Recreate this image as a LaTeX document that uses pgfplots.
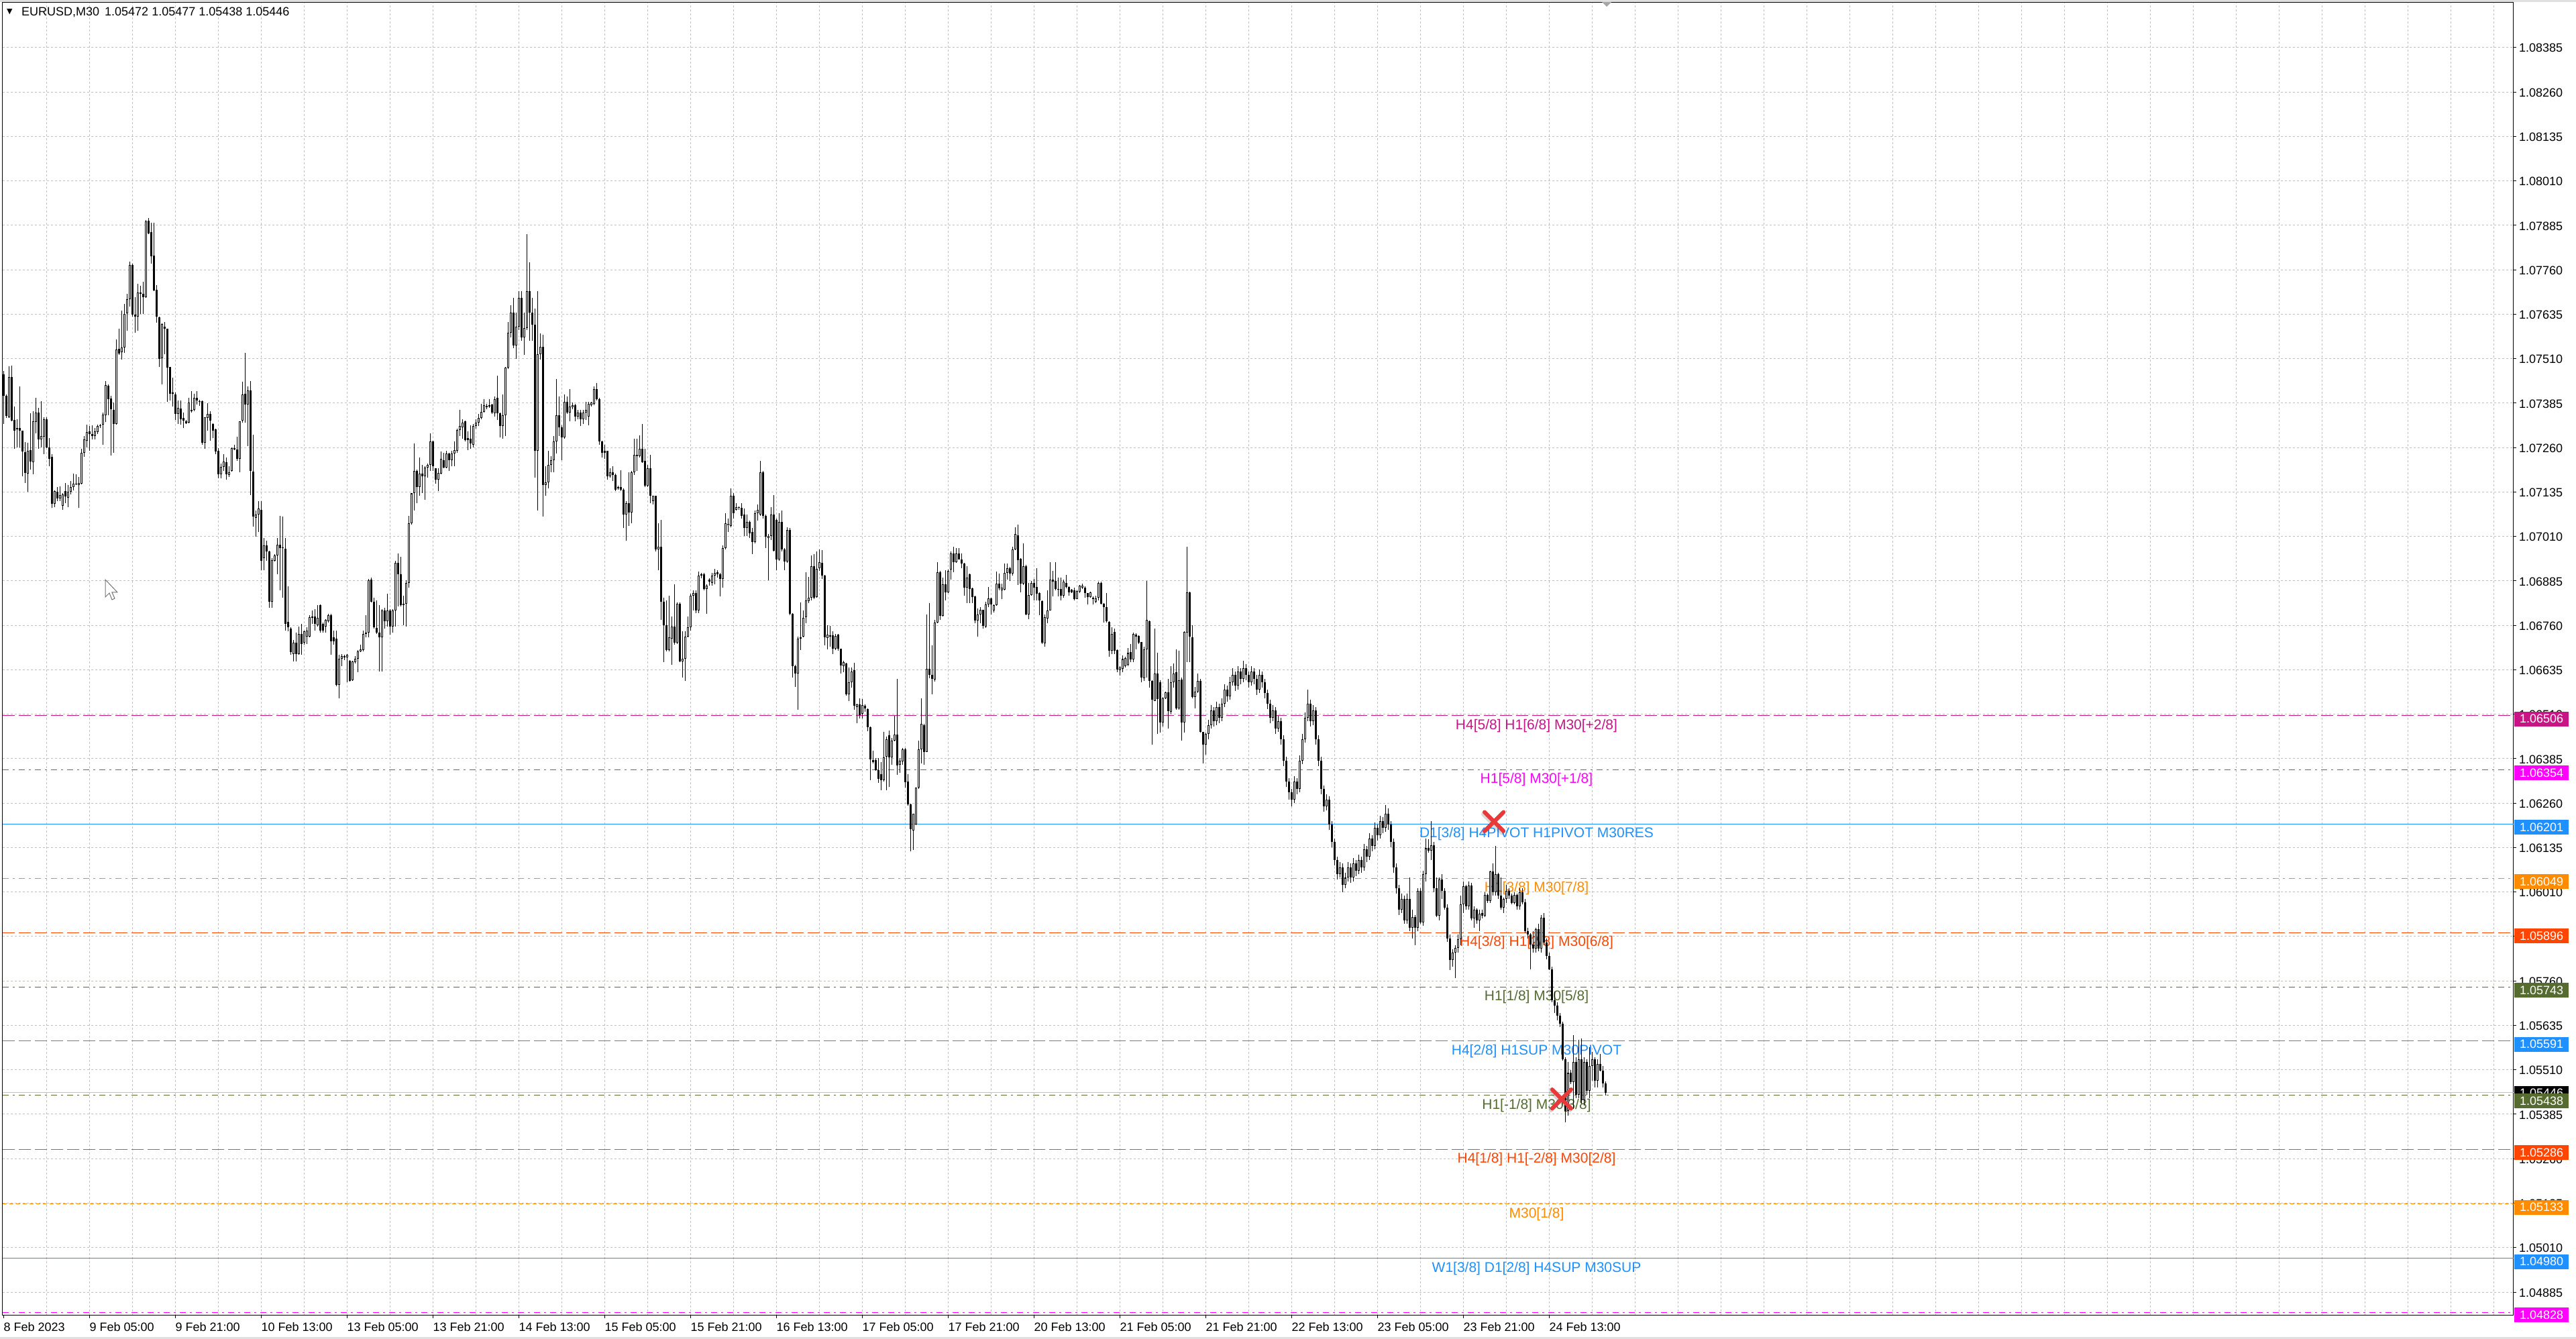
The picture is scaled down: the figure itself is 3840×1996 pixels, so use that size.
\documentclass[border=0pt]{standalone}
\usepackage{fontspec}
\setmainfont{Liberation Sans}
\newfontfamily\djv{DejaVu Sans}
\usepackage{pgfplots}
\pgfplotsset{compat=1.18}
\usepackage{pgfplotstable}

\definecolor{gridc}{RGB}{192,192,192}
\definecolor{mvr}{RGB}{199,21,133}
\definecolor{mag}{RGB}{255,0,255}
\definecolor{dblue}{RGB}{30,144,255}
\definecolor{dorange}{RGB}{255,140,0}
\definecolor{ored}{RGB}{255,69,0}
\definecolor{olivec}{RGB}{85,107,47}
\definecolor{xred}{RGB}{232,58,58}
\definecolor{bidc}{RGB}{192,192,192}

\newcommand{\tickfont}{\fontsize{18}{20}\selectfont}
\newcommand{\lvlfont}{\fontsize{21}{24}\selectfont}

% EURUSD M30 bars: index, open, high, low, close
\pgfplotstableread{
i o h l c
0 1.07466 1.07475 1.07327 1.07406
1 1.07406 1.07409 1.07344 1.07349
2 1.07346 1.07488 1.07344 1.07459
3 1.07458 1.07491 1.07334 1.07335
4 1.07337 1.07376 1.07256 1.07308
5 1.07312 1.07340 1.07261 1.07315
6 1.07315 1.07432 1.07261 1.07307
7 1.07307 1.07308 1.07180 1.07249
8 1.07247 1.07275 1.07161 1.07189
9 1.07187 1.07274 1.07135 1.07250
10 1.07253 1.07357 1.07198 1.07220
11 1.07218 1.07362 1.07185 1.07333
12 1.07332 1.07400 1.07299 1.07359
13 1.07359 1.07371 1.07256 1.07282
14 1.07283 1.07390 1.07261 1.07293
15 1.07290 1.07346 1.07242 1.07340
16 1.07340 1.07346 1.07258 1.07261
17 1.07261 1.07286 1.07208 1.07228
18 1.07233 1.07242 1.07091 1.07101
19 1.07101 1.07139 1.07093 1.07137
20 1.07135 1.07148 1.07110 1.07116
21 1.07117 1.07150 1.07110 1.07127
22 1.07096 1.07131 1.07084 1.07128
23 1.07137 1.07161 1.07104 1.07122
24 1.07118 1.07154 1.07093 1.07135
25 1.07135 1.07166 1.07129 1.07148
26 1.07148 1.07186 1.07140 1.07158
27 1.07156 1.07184 1.07154 1.07158
28 1.07154 1.07177 1.07091 1.07161
29 1.07158 1.07257 1.07156 1.07245
30 1.07245 1.07292 1.07234 1.07282
31 1.07279 1.07325 1.07261 1.07304
32 1.07306 1.07320 1.07251 1.07297
33 1.07298 1.07323 1.07282 1.07293
34 1.07293 1.07315 1.07282 1.07306
35 1.07304 1.07324 1.07298 1.07320
36 1.07320 1.07326 1.07314 1.07323
37 1.07324 1.07358 1.07268 1.07353
38 1.07351 1.07447 1.07332 1.07435
39 1.07433 1.07437 1.07351 1.07396
40 1.07397 1.07406 1.07238 1.07367
41 1.07365 1.07387 1.07245 1.07327
42 1.07327 1.07564 1.07324 1.07535
43 1.07537 1.07594 1.07520 1.07525
44 1.07528 1.07645 1.07507 1.07542
45 1.07542 1.07663 1.07526 1.07635
46 1.07638 1.07692 1.07589 1.07677
47 1.07678 1.07783 1.07657 1.07774
48 1.07774 1.07777 1.07629 1.07633
49 1.07633 1.07682 1.07583 1.07629
50 1.07629 1.07720 1.07588 1.07696
51 1.07696 1.07715 1.07635 1.07692
52 1.07693 1.07726 1.07635 1.07682
53 1.07682 1.07899 1.07680 1.07896
54 1.07898 1.07906 1.07860 1.07862
55 1.07865 1.07893 1.07778 1.07797
56 1.07800 1.07893 1.07700 1.07701
57 1.07703 1.07717 1.07611 1.07629
58 1.07627 1.07629 1.07486 1.07509
59 1.07512 1.07610 1.07438 1.07608
60 1.07600 1.07613 1.07522 1.07595
61 1.07594 1.07594 1.07388 1.07484
62 1.07486 1.07487 1.07393 1.07412
63 1.07415 1.07456 1.07376 1.07411
64 1.07409 1.07415 1.07338 1.07355
65 1.07355 1.07393 1.07327 1.07371
66 1.07369 1.07393 1.07324 1.07340
67 1.07344 1.07359 1.07315 1.07335
68 1.07334 1.07337 1.07327 1.07329
69 1.07330 1.07400 1.07328 1.07387
70 1.07362 1.07418 1.07359 1.07365
71 1.07365 1.07412 1.07362 1.07400
72 1.07400 1.07418 1.07381 1.07393
73 1.07390 1.07394 1.07378 1.07388
74 1.07391 1.07393 1.07268 1.07273
75 1.07274 1.07346 1.07256 1.07345
76 1.07343 1.07384 1.07308 1.07355
77 1.07354 1.07362 1.07280 1.07335
78 1.07327 1.07328 1.07287 1.07308
79 1.07312 1.07313 1.07242 1.07249
80 1.07250 1.07258 1.07173 1.07185
81 1.07185 1.07214 1.07173 1.07206
82 1.07205 1.07242 1.07195 1.07220
83 1.07218 1.07231 1.07170 1.07185
84 1.07183 1.07208 1.07178 1.07190
85 1.07195 1.07261 1.07192 1.07258
86 1.07258 1.07267 1.07252 1.07254
87 1.07255 1.07291 1.07223 1.07228
88 1.07228 1.07333 1.07190 1.07333
89 1.07335 1.07445 1.07330 1.07409
90 1.07411 1.07527 1.07330 1.07381
91 1.07381 1.07432 1.07264 1.07421
92 1.07420 1.07447 1.07126 1.07195
93 1.07193 1.07296 1.07038 1.07065
94 1.07063 1.07082 1.07010 1.07071
95 1.07072 1.07110 1.07022 1.07088
96 1.07084 1.07110 1.06915 1.06942
97 1.06949 1.07005 1.06915 1.06984
98 1.06984 1.06998 1.06942 1.06967
99 1.06967 1.06970 1.06809 1.06827
100 1.06827 1.06949 1.06809 1.06944
101 1.06942 1.06960 1.06939 1.06956
102 1.06956 1.07005 1.06904 1.06986
103 1.06986 1.07068 1.06858 1.06977
104 1.06977 1.07065 1.06837 1.06976
105 1.06976 1.07005 1.06746 1.06764
106 1.06769 1.06869 1.06743 1.06754
107 1.06751 1.06754 1.06677 1.06684
108 1.06680 1.06719 1.06659 1.06712
109 1.06712 1.06740 1.06659 1.06680
110 1.06680 1.06757 1.06677 1.06736
111 1.06736 1.06764 1.06677 1.06708
112 1.06712 1.06746 1.06705 1.06743
113 1.06729 1.06754 1.06708 1.06746
114 1.06729 1.06788 1.06726 1.06783
115 1.06781 1.06802 1.06764 1.06785
116 1.06785 1.06806 1.06746 1.06764
117 1.06760 1.06817 1.06757 1.06781
118 1.06817 1.06818 1.06740 1.06746
119 1.06764 1.06767 1.06740 1.06746
120 1.06757 1.06778 1.06740 1.06775
121 1.06771 1.06792 1.06767 1.06788
122 1.06788 1.06792 1.06677 1.06715
123 1.06726 1.06746 1.06705 1.06715
124 1.06722 1.06746 1.06589 1.06593
125 1.06593 1.06677 1.06554 1.06666
126 1.06666 1.06680 1.06645 1.06674
127 1.06674 1.06677 1.06663 1.06670
128 1.06670 1.06680 1.06600 1.06677
129 1.06661 1.06663 1.06601 1.06603
130 1.06606 1.06661 1.06603 1.06659
131 1.06656 1.06674 1.06652 1.06666
132 1.06666 1.06691 1.06628 1.06687
133 1.06687 1.06705 1.06684 1.06692
134 1.06691 1.06746 1.06687 1.06736
135 1.06736 1.06788 1.06726 1.06740
136 1.06740 1.06890 1.06726 1.06886
137 1.06888 1.06895 1.06824 1.06827
138 1.06827 1.06837 1.06751 1.06754
139 1.06752 1.06830 1.06736 1.06740
140 1.06740 1.06817 1.06631 1.06726
141 1.06726 1.06806 1.06631 1.06802
142 1.06802 1.06809 1.06751 1.06771
143 1.06771 1.06848 1.06757 1.06802
144 1.06802 1.06806 1.06733 1.06757
145 1.06757 1.06806 1.06740 1.06802
146 1.06802 1.06942 1.06757 1.06935
147 1.06935 1.06963 1.06813 1.06904
148 1.06904 1.06953 1.06813 1.06817
149 1.06817 1.06844 1.06760 1.06820
150 1.06820 1.06886 1.06757 1.06879
151 1.06879 1.07068 1.06865 1.07047
152 1.07047 1.07132 1.07043 1.07131
153 1.07131 1.07272 1.07082 1.07194
154 1.07194 1.07197 1.07103 1.07148
155 1.07148 1.07232 1.07124 1.07187
156 1.07187 1.07211 1.07131 1.07180
157 1.07180 1.07208 1.07113 1.07204
158 1.07204 1.07215 1.07176 1.07211
159 1.07211 1.07299 1.07194 1.07278
160 1.07278 1.07279 1.07194 1.07208
161 1.07201 1.07202 1.07159 1.07169
162 1.07169 1.07201 1.07138 1.07188
163 1.07187 1.07248 1.07185 1.07229
164 1.07224 1.07246 1.07202 1.07204
165 1.07204 1.07250 1.07201 1.07243
166 1.07243 1.07246 1.07194 1.07225
167 1.07225 1.07250 1.07208 1.07243
168 1.07243 1.07278 1.07208 1.07253
169 1.07250 1.07313 1.07246 1.07309
170 1.07309 1.07365 1.07292 1.07320
171 1.07316 1.07340 1.07285 1.07330
172 1.07333 1.07335 1.07278 1.07281
173 1.07281 1.07306 1.07253 1.07286
174 1.07285 1.07323 1.07257 1.07271
175 1.07267 1.07326 1.07260 1.07320
176 1.07320 1.07340 1.07313 1.07330
177 1.07330 1.07354 1.07320 1.07344
178 1.07344 1.07382 1.07340 1.07361
179 1.07361 1.07396 1.07358 1.07379
180 1.07374 1.07382 1.07368 1.07377
181 1.07375 1.07396 1.07372 1.07379
182 1.07381 1.07382 1.07354 1.07358
183 1.07356 1.07403 1.07347 1.07396
184 1.07400 1.07463 1.07337 1.07356
185 1.07356 1.07358 1.07288 1.07320
186 1.07320 1.07410 1.07285 1.07351
187 1.07351 1.07487 1.07292 1.07484
188 1.07484 1.07613 1.07480 1.07582
189 1.07582 1.07660 1.07570 1.07640
190 1.07640 1.07680 1.07540 1.07547
191 1.07547 1.07640 1.07510 1.07600
192 1.07600 1.07700 1.07590 1.07680
193 1.07680 1.07700 1.07560 1.07570
194 1.07570 1.07640 1.07520 1.07596
195 1.07596 1.07860 1.07590 1.07700
196 1.07700 1.07780 1.07560 1.07640
197 1.07640 1.07680 1.07560 1.07606
198 1.07606 1.07650 1.07176 1.07250
199 1.07250 1.07700 1.07082 1.07522
200 1.07522 1.07580 1.07508 1.07543
201 1.07543 1.07578 1.07065 1.07155
202 1.07155 1.07208 1.07124 1.07162
203 1.07162 1.07250 1.07145 1.07211
204 1.07211 1.07236 1.07190 1.07225
205 1.07225 1.07292 1.07190 1.07278
206 1.07278 1.07452 1.07243 1.07351
207 1.07351 1.07403 1.07292 1.07316
208 1.07316 1.07323 1.07225 1.07288
209 1.07288 1.07410 1.07285 1.07389
210 1.07389 1.07403 1.07354 1.07358
211 1.07358 1.07424 1.07333 1.07375
212 1.07374 1.07386 1.07368 1.07379
213 1.07379 1.07382 1.07333 1.07347
214 1.07347 1.07365 1.07340 1.07358
215 1.07358 1.07365 1.07320 1.07340
216 1.07340 1.07365 1.07326 1.07358
217 1.07358 1.07389 1.07337 1.07365
218 1.07347 1.07389 1.07323 1.07382
219 1.07379 1.07389 1.07375 1.07386
220 1.07382 1.07431 1.07379 1.07424
221 1.07424 1.07442 1.07393 1.07396
222 1.07396 1.07400 1.07267 1.07278
223 1.07278 1.07279 1.07232 1.07246
224 1.07246 1.07267 1.07229 1.07250
225 1.07250 1.07251 1.07169 1.07180
226 1.07180 1.07201 1.07176 1.07190
227 1.07190 1.07208 1.07166 1.07183
228 1.07183 1.07187 1.07138 1.07141
229 1.07148 1.07152 1.07141 1.07145
230 1.07148 1.07197 1.07138 1.07141
231 1.07141 1.07146 1.07033 1.07071
232 1.07071 1.07110 1.06998 1.07104
233 1.07104 1.07190 1.07040 1.07078
234 1.07078 1.07194 1.07047 1.07190
235 1.07190 1.07285 1.07183 1.07239
236 1.07236 1.07285 1.07194 1.07239
237 1.07236 1.07295 1.07232 1.07257
238 1.07257 1.07326 1.07216 1.07218
239 1.07222 1.07257 1.07148 1.07152
240 1.07152 1.07211 1.07148 1.07201
241 1.07201 1.07239 1.07103 1.07124
242 1.07110 1.07124 1.07099 1.07124
243 1.07124 1.07125 1.06967 1.06974
244 1.06974 1.07047 1.06915 1.06981
245 1.06981 1.07057 1.06775 1.06827
246 1.06827 1.06837 1.06656 1.06760
247 1.06760 1.06830 1.06687 1.06691
248 1.06691 1.06844 1.06687 1.06726
249 1.06722 1.06785 1.06649 1.06757
250 1.06757 1.06876 1.06705 1.06712
251 1.06712 1.06824 1.06708 1.06820
252 1.06820 1.06824 1.06656 1.06659
253 1.06659 1.06743 1.06614 1.06666
254 1.06666 1.06743 1.06603 1.06729
255 1.06729 1.06785 1.06726 1.06754
256 1.06754 1.06848 1.06746 1.06844
257 1.06844 1.06858 1.06802 1.06851
258 1.06851 1.06858 1.06795 1.06802
259 1.06802 1.06911 1.06795 1.06900
260 1.06900 1.06907 1.06893 1.06904
261 1.06904 1.06907 1.06858 1.06862
262 1.06862 1.06876 1.06792 1.06872
263 1.06888 1.06893 1.06872 1.06883
264 1.06879 1.06907 1.06872 1.06900
265 1.06900 1.06918 1.06876 1.06907
266 1.06904 1.06915 1.06895 1.06909
267 1.06904 1.06907 1.06841 1.06890
268 1.06890 1.06985 1.06865 1.06977
269 1.06977 1.07075 1.06974 1.07047
270 1.07041 1.07061 1.07022 1.07046
271 1.07040 1.07145 1.07036 1.07124
272 1.07124 1.07131 1.07061 1.07075
273 1.07085 1.07103 1.07082 1.07092
274 1.07090 1.07095 1.07085 1.07092
275 1.07090 1.07103 1.07061 1.07068
276 1.07071 1.07089 1.07012 1.07033
277 1.07033 1.07071 1.07012 1.07050
278 1.07050 1.07054 1.07005 1.07019
279 1.07022 1.07033 1.06960 1.06995
280 1.06995 1.07082 1.06991 1.07075
281 1.07075 1.07099 1.07054 1.07085
282 1.07071 1.07222 1.07068 1.07190
283 1.07190 1.07194 1.07061 1.07068
284 1.07068 1.07071 1.06977 1.07009
285 1.07005 1.07016 1.06886 1.07012
286 1.07012 1.07092 1.07000 1.07071
287 1.07071 1.07127 1.06967 1.06970
288 1.07057 1.07061 1.06915 1.06946
289 1.06946 1.07075 1.06942 1.07050
290 1.07050 1.07082 1.06967 1.06974
291 1.06974 1.06977 1.06915 1.06939
292 1.06939 1.07036 1.06935 1.07029
293 1.07029 1.07033 1.06788 1.06792
294 1.06792 1.06795 1.06614 1.06645
295 1.06645 1.06649 1.06586 1.06625
296 1.06625 1.06729 1.06522 1.06722
297 1.06722 1.06824 1.06691 1.06726
298 1.06729 1.06802 1.06726 1.06781
299 1.06783 1.06909 1.06765 1.06830
300 1.06828 1.06896 1.06823 1.06837
301 1.06837 1.06956 1.06830 1.06927
302 1.06927 1.06960 1.06833 1.06838
303 1.06839 1.06967 1.06837 1.06918
304 1.06920 1.06973 1.06913 1.06938
305 1.06936 1.06971 1.06891 1.06900
306 1.06900 1.06902 1.06703 1.06727
307 1.06725 1.06761 1.06693 1.06734
308 1.06729 1.06758 1.06700 1.06732
309 1.06732 1.06743 1.06680 1.06694
310 1.06694 1.06736 1.06690 1.06730
311 1.06734 1.06736 1.06689 1.06694
312 1.06694 1.06694 1.06624 1.06648
313 1.06646 1.06660 1.06628 1.06656
314 1.06653 1.06655 1.06562 1.06566
315 1.06566 1.06642 1.06548 1.06600
316 1.06600 1.06642 1.06584 1.06631
317 1.06633 1.06655 1.06523 1.06534
318 1.06530 1.06540 1.06485 1.06537
319 1.06537 1.06555 1.06498 1.06508
320 1.06511 1.06552 1.06498 1.06535
321 1.06534 1.06537 1.06516 1.06526
322 1.06524 1.06526 1.06463 1.06474
323 1.06474 1.06476 1.06324 1.06383
324 1.06382 1.06407 1.06372 1.06376
325 1.06381 1.06386 1.06350 1.06353
326 1.06353 1.06386 1.06317 1.06328
327 1.06342 1.06376 1.06296 1.06324
328 1.06324 1.06461 1.06320 1.06389
329 1.06391 1.06447 1.06296 1.06440
330 1.06451 1.06465 1.06306 1.06389
331 1.06389 1.06444 1.06368 1.06436
332 1.06436 1.06505 1.06434 1.06453
333 1.06453 1.06610 1.06339 1.06366
334 1.06368 1.06386 1.06346 1.06380
335 1.06378 1.06415 1.06368 1.06411
336 1.06411 1.06415 1.06303 1.06318
337 1.06321 1.06342 1.06252 1.06256
338 1.06256 1.06259 1.06125 1.06187
339 1.06183 1.06230 1.06129 1.06230
340 1.06200 1.06304 1.06198 1.06303
341 1.06303 1.06436 1.06299 1.06411
342 1.06411 1.06555 1.06372 1.06483
343 1.06479 1.06483 1.06368 1.06404
344 1.06404 1.06790 1.06404 1.06638
345 1.06638 1.06823 1.06612 1.06620
346 1.06620 1.06703 1.06566 1.06610
347 1.06607 1.06776 1.06602 1.06768
348 1.06768 1.06938 1.06765 1.06909
349 1.06909 1.06913 1.06776 1.06786
350 1.06786 1.06895 1.06785 1.06875
351 1.06875 1.06915 1.06830 1.06853
352 1.06853 1.06916 1.06851 1.06913
353 1.06916 1.06967 1.06888 1.06963
354 1.06963 1.06981 1.06909 1.06938
355 1.06938 1.06978 1.06935 1.06963
356 1.06963 1.06978 1.06945 1.06945
357 1.06945 1.06963 1.06920 1.06934
358 1.06934 1.06936 1.06844 1.06866
359 1.06866 1.06927 1.06823 1.06895
360 1.06903 1.06906 1.06823 1.06862
361 1.06864 1.06866 1.06823 1.06839
362 1.06842 1.06844 1.06765 1.06773
363 1.06773 1.06808 1.06729 1.06790
364 1.06790 1.06812 1.06765 1.06804
365 1.06804 1.06804 1.06750 1.06758
366 1.06756 1.06826 1.06752 1.06819
367 1.06819 1.06867 1.06812 1.06835
368 1.06835 1.06837 1.06790 1.06819
369 1.06802 1.06819 1.06797 1.06817
370 1.06817 1.06911 1.06815 1.06878
371 1.06878 1.06906 1.06859 1.06864
372 1.06859 1.06877 1.06833 1.06866
373 1.06860 1.06934 1.06859 1.06907
374 1.06907 1.06934 1.06888 1.06920
375 1.06920 1.06924 1.06884 1.06906
376 1.06906 1.06981 1.06900 1.06973
377 1.06973 1.07036 1.06971 1.07016
378 1.07014 1.07043 1.06873 1.06944
379 1.06947 1.06949 1.06853 1.06877
380 1.06877 1.06991 1.06873 1.06927
381 1.06927 1.06930 1.06788 1.06790
382 1.06790 1.06880 1.06778 1.06846
383 1.06846 1.06884 1.06844 1.06880
384 1.06880 1.06891 1.06830 1.06866
385 1.06867 1.06920 1.06830 1.06849
386 1.06851 1.06853 1.06788 1.06830
387 1.06828 1.06830 1.06707 1.06711
388 1.06709 1.06790 1.06700 1.06783
389 1.06780 1.06859 1.06765 1.06802
390 1.06801 1.06938 1.06801 1.06888
391 1.06888 1.06913 1.06841 1.06882
392 1.06884 1.06937 1.06859 1.06862
393 1.06862 1.06895 1.06841 1.06860
394 1.06862 1.06895 1.06830 1.06844
395 1.06844 1.06888 1.06837 1.06882
396 1.06880 1.06902 1.06864 1.06867
397 1.06867 1.06869 1.06844 1.06853
398 1.06860 1.06862 1.06851 1.06853
399 1.06859 1.06866 1.06830 1.06833
400 1.06834 1.06859 1.06833 1.06856
401 1.06855 1.06873 1.06851 1.06872
402 1.06866 1.06877 1.06862 1.06872
403 1.06866 1.06869 1.06837 1.06851
404 1.06850 1.06851 1.06819 1.06839
405 1.06839 1.06855 1.06837 1.06853
406 1.06838 1.06841 1.06819 1.06833
407 1.06826 1.06844 1.06823 1.06835
408 1.06837 1.06883 1.06830 1.06879
409 1.06879 1.06883 1.06819 1.06820
410 1.06820 1.06823 1.06768 1.06812
411 1.06812 1.06851 1.06768 1.06772
412 1.06770 1.06772 1.06671 1.06689
413 1.06689 1.06754 1.06679 1.06736
414 1.06742 1.06750 1.06679 1.06689
415 1.06690 1.06693 1.06629 1.06635
416 1.06633 1.06646 1.06619 1.06642
417 1.06638 1.06675 1.06628 1.06665
418 1.06646 1.06671 1.06642 1.06667
419 1.06649 1.06696 1.06646 1.06682
420 1.06684 1.06707 1.06656 1.06664
421 1.06664 1.06740 1.06656 1.06736
422 1.06734 1.06737 1.06693 1.06729
423 1.06730 1.06732 1.06707 1.06711
424 1.06713 1.06714 1.06599 1.06613
425 1.06612 1.06700 1.06604 1.06693
426 1.06693 1.06884 1.06613 1.06776
427 1.06772 1.06773 1.06584 1.06604
428 1.06604 1.06606 1.06425 1.06550
429 1.06548 1.06750 1.06548 1.06624
430 1.06624 1.06682 1.06454 1.06552
431 1.06599 1.06606 1.06458 1.06487
432 1.06487 1.06559 1.06476 1.06555
433 1.06555 1.06573 1.06552 1.06571
434 1.06571 1.06610 1.06469 1.06519
435 1.06516 1.06646 1.06512 1.06599
436 1.06599 1.06653 1.06584 1.06624
437 1.06628 1.06693 1.06523 1.06526
438 1.06526 1.06689 1.06523 1.06606
439 1.06607 1.06613 1.06436 1.06487
440 1.06487 1.06743 1.06458 1.06742
441 1.06740 1.06981 1.06656 1.06853
442 1.06853 1.06855 1.06656 1.06729
443 1.06727 1.06761 1.06555 1.06559
444 1.06559 1.06586 1.06526 1.06573
445 1.06573 1.06624 1.06570 1.06604
446 1.06604 1.06610 1.06458 1.06461
447 1.06460 1.06461 1.06372 1.06425
448 1.06425 1.06458 1.06396 1.06454
449 1.06454 1.06495 1.06440 1.06480
450 1.06480 1.06535 1.06470 1.06520
451 1.06520 1.06530 1.06475 1.06490
452 1.06490 1.06545 1.06480 1.06530
453 1.06530 1.06540 1.06485 1.06500
454 1.06500 1.06555 1.06490 1.06540
455 1.06540 1.06595 1.06530 1.06580
456 1.06580 1.06590 1.06545 1.06560
457 1.06560 1.06615 1.06550 1.06600
458 1.06600 1.06640 1.06590 1.06620
459 1.06620 1.06630 1.06575 1.06590
460 1.06590 1.06645 1.06580 1.06630
461 1.06630 1.06640 1.06595 1.06610
462 1.06610 1.06660 1.06600 1.06640
463 1.06640 1.06650 1.06605 1.06620
464 1.06620 1.06630 1.06585 1.06600
465 1.06600 1.06645 1.06590 1.06630
466 1.06630 1.06640 1.06595 1.06610
467 1.06610 1.06620 1.06565 1.06580
468 1.06580 1.06635 1.06570 1.06620
469 1.06620 1.06630 1.06585 1.06600
470 1.06600 1.06610 1.06555 1.06570
471 1.06570 1.06580 1.06525 1.06540
472 1.06540 1.06550 1.06485 1.06500
473 1.06500 1.06535 1.06490 1.06520
474 1.06520 1.06530 1.06455 1.06470
475 1.06470 1.06505 1.06460 1.06490
476 1.06490 1.06500 1.06425 1.06440
477 1.06440 1.06450 1.06365 1.06380
478 1.06380 1.06390 1.06305 1.06320
479 1.06320 1.06330 1.06270 1.06290
480 1.06290 1.06300 1.06250 1.06270
481 1.06270 1.06335 1.06260 1.06320
482 1.06320 1.06330 1.06285 1.06300
483 1.06300 1.06395 1.06290 1.06380
484 1.06380 1.06455 1.06370 1.06440
485 1.06440 1.06515 1.06430 1.06500
486 1.06500 1.06580 1.06490 1.06540
487 1.06540 1.06550 1.06475 1.06490
488 1.06490 1.06535 1.06480 1.06520
489 1.06520 1.06530 1.06425 1.06440
490 1.06440 1.06450 1.06365 1.06380
491 1.06380 1.06390 1.06285 1.06300
492 1.06300 1.06310 1.06235 1.06250
493 1.06250 1.06285 1.06240 1.06270
494 1.06270 1.06280 1.06185 1.06200
495 1.06200 1.06210 1.06135 1.06150
496 1.06150 1.06160 1.06085 1.06100
497 1.06100 1.06110 1.06045 1.06060
498 1.06060 1.06095 1.06050 1.06080
499 1.06080 1.06090 1.06010 1.06030
500 1.06030 1.06065 1.06020 1.06050
501 1.06050 1.06095 1.06040 1.06080
502 1.06080 1.06090 1.06035 1.06050
503 1.06050 1.06105 1.06040 1.06090
504 1.06090 1.06100 1.06055 1.06070
505 1.06070 1.06115 1.06060 1.06100
506 1.06100 1.06110 1.06065 1.06080
507 1.06080 1.06145 1.06070 1.06130
508 1.06130 1.06140 1.06095 1.06110
509 1.06110 1.06175 1.06100 1.06160
510 1.06160 1.06170 1.06125 1.06140
511 1.06140 1.06205 1.06130 1.06190
512 1.06190 1.06200 1.06155 1.06170
513 1.06170 1.06225 1.06160 1.06210
514 1.06210 1.06220 1.06175 1.06190
515 1.06190 1.06255 1.06180 1.06230
516 1.06230 1.06245 1.06185 1.06200
517 1.06200 1.06210 1.06135 1.06150
518 1.06150 1.06160 1.06065 1.06080
519 1.06080 1.06090 1.06005 1.06020
520 1.06020 1.06030 1.05945 1.05960
521 1.05960 1.06005 1.05950 1.05990
522 1.05990 1.06000 1.05920 1.05930
523 1.05930 1.06005 1.05920 1.05990
524 1.05990 1.06050 1.05900 1.05910
525 1.05910 1.05960 1.05880 1.05940
526 1.05940 1.05945 1.05860 1.05910
527 1.05910 1.06020 1.05900 1.06013
528 1.06013 1.06020 1.05920 1.05925
529 1.05925 1.06070 1.05915 1.06060
530 1.06060 1.06161 1.06040 1.06133
531 1.06133 1.06158 1.06120 1.06127
532 1.06127 1.06209 1.06100 1.06142
533 1.06142 1.06150 1.06010 1.06020
534 1.06020 1.06050 1.05940 1.05944
535 1.05944 1.06050 1.05930 1.06045
536 1.06045 1.06060 1.05990 1.06013
537 1.06013 1.06020 1.05960 1.05966
538 1.05966 1.05975 1.05870 1.05880
539 1.05880 1.05890 1.05790 1.05818
540 1.05818 1.05850 1.05800 1.05840
541 1.05840 1.05860 1.05768 1.05853
542 1.05853 1.05890 1.05840 1.05878
543 1.05878 1.06000 1.05860 1.05976
544 1.05976 1.06040 1.05950 1.06026
545 1.06026 1.06030 1.05960 1.05970
546 1.05970 1.06040 1.05960 1.06029
547 1.06029 1.06035 1.05930 1.05935
548 1.05935 1.05970 1.05910 1.05960
549 1.05960 1.05965 1.05920 1.05930
550 1.05930 1.05960 1.05900 1.05950
551 1.05950 1.05960 1.05935 1.05944
552 1.05944 1.06010 1.05940 1.06001
553 1.06001 1.06005 1.05980 1.05985
554 1.05985 1.06070 1.05980 1.06067
555 1.06067 1.06090 1.06000 1.06010
556 1.06010 1.06139 1.06000 1.06060
557 1.06060 1.06065 1.05990 1.06000
558 1.06000 1.06050 1.05960 1.05966
559 1.05966 1.05995 1.05950 1.05990
560 1.05990 1.06030 1.05980 1.06013
561 1.06013 1.06020 1.05990 1.06000
562 1.06000 1.06005 1.05975 1.05980
563 1.05980 1.06010 1.05975 1.06001
564 1.06001 1.06005 1.05960 1.05969
565 1.05969 1.06020 1.05960 1.06010
566 1.06010 1.06020 1.05975 1.05982
567 1.05982 1.05990 1.05895 1.05900
568 1.05900 1.05910 1.05880 1.05890
569 1.05890 1.05895 1.05793 1.05862
570 1.05862 1.05900 1.05840 1.05850
571 1.05850 1.05910 1.05840 1.05906
572 1.05906 1.05920 1.05843 1.05850
573 1.05850 1.05945 1.05840 1.05938
574 1.05938 1.05950 1.05860 1.05868
575 1.05868 1.05880 1.05820 1.05831
576 1.05831 1.05840 1.05790 1.05793
577 1.05793 1.05800 1.05700 1.05705
578 1.05705 1.05730 1.05670 1.05690
579 1.05690 1.05700 1.05650 1.05662
580 1.05662 1.05670 1.05630 1.05640
581 1.05640 1.05645 1.05535 1.05539
582 1.05539 1.05545 1.05362 1.05394
583 1.05394 1.05532 1.05381 1.05501
584 1.05501 1.05510 1.05470 1.05476
585 1.05476 1.05608 1.05400 1.05532
586 1.05532 1.05545 1.05430 1.05440
587 1.05440 1.05595 1.05430 1.05539
588 1.05539 1.05599 1.05415 1.05425
589 1.05425 1.05545 1.05410 1.05532
590 1.05532 1.05540 1.05440 1.05451
591 1.05451 1.05573 1.05430 1.05520
592 1.05520 1.05560 1.05480 1.05539
593 1.05539 1.05545 1.05460 1.05480
594 1.05480 1.05540 1.05460 1.05526
595 1.05526 1.05554 1.05505 1.05507
596 1.05507 1.05520 1.05460 1.05472
597 1.05472 1.05477 1.05438 1.05446
}\candles

\begin{document}
\begin{tikzpicture}
\fill[white] (0,0) rectangle (3840pt,1996pt);
\path[use as bounding box] (0,0) rectangle (3840pt,1996pt);
% window frame bands
\fill[black!12] (0,1993pt) rectangle (3840pt,1996pt);
\fill[black!12] (0,0) rectangle (3840pt,3pt);

\begin{axis}[
  at={(4pt,35pt)}, anchor=south west,
  scale only axis, width=3743pt, height=1957pt,
  xmin=-0.375, xmax=935.375, ymin=1.04819, ymax=1.08511,
  clip=false,
  axis line style={black, line width=1pt},
  tick align=outside, major tick length=4pt, minor tick length=0pt,
  tick style={black, line width=1pt},
  xtick pos=bottom, ytick pos=right, yticklabel pos=right,
  xtick={0,32,...,576},
  xticklabels={8 Feb 2023,9 Feb 05:00,9 Feb 21:00,10 Feb 13:00,13 Feb 05:00,13 Feb 21:00,14 Feb 13:00,15 Feb 05:00,15 Feb 21:00,16 Feb 13:00,17 Feb 05:00,17 Feb 21:00,20 Feb 13:00,21 Feb 05:00,21 Feb 21:00,22 Feb 13:00,23 Feb 05:00,23 Feb 21:00,24 Feb 13:00},
  minor xtick={16,32,...,928},
  ytick={1.04885,1.05010,1.05135,1.05260,1.05385,1.05510,1.05635,1.05760,1.05885,1.06010,1.06135,1.06260,1.06385,1.06510,1.06635,1.06760,1.06885,1.07010,1.07135,1.07260,1.07385,1.07510,1.07635,1.07760,1.07885,1.08010,1.08135,1.08260,1.08385},
  yticklabels={1.04885,1.05010,1.05135,1.05260,1.05385,1.05510,1.05635,1.05760,1.05885,1.06010,1.06135,1.06260,1.06385,1.06510,1.06635,1.06760,1.06885,1.07010,1.07135,1.07260,1.07385,1.07510,1.07635,1.07760,1.07885,1.08010,1.08135,1.08260,1.08385},
  xmajorgrids=false, xminorgrids=true, ymajorgrids=true,
  grid style={gridc, dash pattern=on 3pt off 3pt, line width=1pt},
  minor grid style={gridc, dash pattern=on 3pt off 3pt, line width=1pt},
  xticklabel style={font=\tickfont, anchor=north west, inner sep=0pt, yshift=-6pt},
  yticklabel style={font=\tickfont, anchor=west, inner sep=0pt, xshift=4pt, yshift=-1pt},
]

% level lines
\addplot[mvr, line width=1pt, dash pattern=on 18pt off 6pt] coordinates {(-0.375,1.06506) (935.375,1.06506)};
\addplot[mag, line width=1pt, dash pattern=on 9pt off 6pt on 3pt off 6pt] coordinates {(-0.375,1.06354) (935.375,1.06354)};
\addplot[dblue, line width=1pt] coordinates {(-0.375,1.06201) (935.375,1.06201)};
\addplot[dorange, line width=1pt, dash pattern=on 9pt off 6pt on 3pt off 6pt] coordinates {(-0.375,1.06049) (935.375,1.06049)};
\addplot[ored, line width=1pt, dash pattern=on 18pt off 6pt] coordinates {(-0.375,1.05896) (935.375,1.05896)};
\addplot[olivec, line width=1pt, dash pattern=on 9pt off 6pt on 3pt off 6pt] coordinates {(-0.375,1.05743) (935.375,1.05743)};
\addplot[dblue, line width=1pt, dash pattern=on 18pt off 6pt] coordinates {(-0.375,1.05591) (935.375,1.05591)};
\addplot[bidc, line width=1pt] coordinates {(-0.375,1.05446) (935.375,1.05446)};
\addplot[olivec, line width=1pt, dash pattern=on 9pt off 6pt on 3pt off 6pt] coordinates {(-0.375,1.05438) (935.375,1.05438)};
\addplot[ored, line width=1pt, dash pattern=on 18pt off 6pt] coordinates {(-0.375,1.05286) (935.375,1.05286)};
\addplot[dorange, line width=1pt, dash pattern=on 6pt off 4pt] coordinates {(-0.375,1.05133) (935.375,1.05133)};
\addplot[dblue, line width=1pt] coordinates {(-0.375,1.04980) (935.375,1.04980)};
\addplot[mag, line width=1pt, dash pattern=on 9pt off 6pt on 3pt off 6pt] coordinates {(-0.375,1.04828) (935.375,1.04828)};

% level captions
\begin{scope}[every node/.style={anchor=base, inner sep=0pt, font=\lvlfont, yshift=-20.5pt}]
\node[text=mvr] at (axis cs:571.25,1.06506) {H4[5/8] H1[6/8] M30[+2/8]};
\node[text=mag] at (axis cs:571.25,1.06354) {H1[5/8] M30[+1/8]};
\node[text=dblue] at (axis cs:571.25,1.06201) {D1[3/8] H4PIVOT H1PIVOT M30RES};
\node[text=dorange] at (axis cs:571.25,1.06049) {H1[3/8] M30[7/8]};
\node[text=ored] at (axis cs:571.25,1.05896) {H4[3/8] H1[2/8] M30[6/8]};
\node[text=olivec] at (axis cs:571.25,1.05743) {H1[1/8] M30[5/8]};
\node[text=dblue] at (axis cs:571.25,1.05591) {H4[2/8] H1SUP M30PIVOT};
\node[text=olivec] at (axis cs:571.25,1.05438) {H1[-1/8] M30[3/8]};
\node[text=ored] at (axis cs:571.25,1.05286) {H4[1/8] H1[-2/8] M30[2/8]};
\node[text=dorange] at (axis cs:571.25,1.05133) {M30[1/8]};
\node[text=dblue] at (axis cs:571.25,1.04980) {W1[3/8] D1[2/8] H4SUP M30SUP};
\end{scope}

% candles: wicks, bodies, hollow bull bodies
\addplot[draw=none, mark=none, forget plot,
  error bars/.cd, y dir=plus, y explicit, error mark=none,
  error bar style={draw=black, line width=1pt, solid}]
  table[x=i, y=l, y error expr={\thisrow{h}-\thisrow{l}}] {\candles};
\addplot[draw=none, mark=none, forget plot,
  error bars/.cd, y dir=plus, y explicit, error mark=none,
  error bar style={draw=black, line width=3pt, solid}]
  table[x=i, y expr={min(\thisrow{o},\thisrow{c})}, y error expr={max(abs(\thisrow{c}-\thisrow{o}),0.00002)}] {\candles};
\addplot[draw=none, mark=none, forget plot,
  restrict expr to domain={\thisrow{c}-\thisrow{o}}{0.00005:1},
  error bars/.cd, y dir=plus, y explicit, error mark=none,
  error bar style={draw=white, line width=1pt, solid}]
  table[x=i, y expr={\thisrow{o}+0.000019}, y error expr={\thisrow{c}-\thisrow{o}-0.000038}] {\candles};

% red crosses
\addplot[only marks, mark=x, mark size=20pt, black, opacity=0.15,
  mark options={line width=6pt, line cap=round, xshift=-2pt, yshift=-3pt}]
  coordinates {(555.4,1.06208) (580.6,1.05428)};
\addplot[only marks, mark=x, mark size=20pt, xred,
  mark options={line width=6pt, line cap=round}]
  coordinates {(555.4,1.06208) (580.6,1.05428)};

% price tags on the scale
\begin{scope}[every node/.style={anchor=west, inner xsep=8pt, inner ysep=0pt, minimum height=22pt, text=white, font=\tickfont, xshift=1pt}]
\node[fill=mvr, yshift=-5pt] at (axis cs:935.375,1.06506) {1.06506};
\node[fill=mag, yshift=-5pt] at (axis cs:935.375,1.06354) {1.06354};
\node[fill=dblue, yshift=-5pt] at (axis cs:935.375,1.06201) {1.06201};
\node[fill=dorange, yshift=-5pt] at (axis cs:935.375,1.06049) {1.06049};
\node[fill=ored, yshift=-5pt] at (axis cs:935.375,1.05896) {1.05896};
\node[fill=olivec, yshift=-5pt] at (axis cs:935.375,1.05743) {1.05743};
\node[fill=dblue, yshift=-5pt] at (axis cs:935.375,1.05591) {1.05591};
\node[fill=black, yshift=-1pt] at (axis cs:935.375,1.05446) {1.05446};
\node[fill=olivec, yshift=-8pt] at (axis cs:935.375,1.05438) {1.05438};
\node[fill=ored, yshift=-5pt] at (axis cs:935.375,1.05286) {1.05286};
\node[fill=dorange, yshift=-5pt] at (axis cs:935.375,1.05133) {1.05133};
\node[fill=dblue, yshift=-5pt] at (axis cs:935.375,1.04980) {1.04980};
\node[fill=mag, yshift=-4pt] at (axis cs:935.375,1.04828) {1.04828};
\end{scope}
\end{axis}

% chart caption
\node[anchor=base west, inner sep=0pt, font=\djv\fontsize{11}{12}\selectfont] at (10pt,1975pt) {▼};
\node[anchor=base west, inner sep=0pt, font=\tickfont] at (32pt,1972pt) {EURUSD,M30\hspace{8pt}1.05472 1.05477 1.05438 1.05446};
% chart shift marker
\fill[black!35] (2388pt,1993pt) -- (2402pt,1993pt) -- (2395pt,1986pt) -- cycle;
% mouse pointer
\draw[black!55, fill=white, line width=1pt] (157pt,1132pt) -- (157pt,1106pt) -- (163pt,1112pt) -- (167pt,1102pt) -- (171pt,1104pt) -- (167pt,1113pt) -- (175pt,1113pt) -- cycle;
\end{tikzpicture}
\end{document}
